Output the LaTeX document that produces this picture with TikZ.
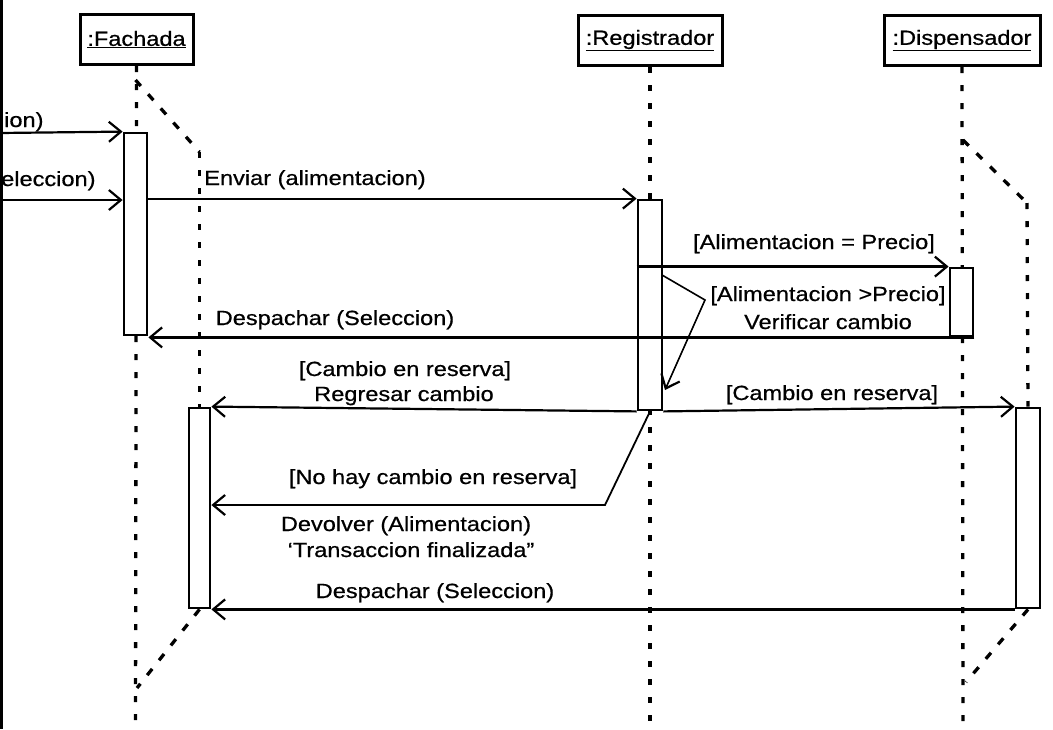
\documentclass[tikz,border=0pt]{standalone}
\usepackage{fontspec}
\setmainfont{Liberation Sans}[FakeStretch=1.15,FakeBold=0.6]
\usetikzlibrary{arrows.meta}
\begin{document}
\begin{tikzpicture}[x=1pt,y=-1pt,
  every node/.style={font=\fontsize{20.5}{24}\selectfont, inner sep=0pt},
  obj/.style={draw, line width=3pt, minimum height=50pt, fill=white},
  act/.style={draw, line width=2.8pt, fill=white},
  life/.style={line width=3.3pt, dash pattern=on 6pt off 12pt},
  branch/.style={line width=3.3pt, dash pattern=on 8pt off 11pt},
  msg/.style={line width=2.2pt, -{Straight Barb[length=12pt,width=20pt,line width=2.2pt]}},
  lbl/.style={anchor=base}]
\useasboundingbox (0,0) rectangle (1053,729);
\fill[white] (0,0) rectangle (1053,729);
\fill[black] (0,0) rectangle (3,729);

% object heads
\node[obj, minimum width=113pt] (fach) at (136.5,39.5) {\underline{:Fachada}};
\node[obj, minimum width=144pt] (reg) at (650,40.5) {\underline{:Registrador}};
\node[obj, minimum width=156pt] (dis) at (962,40.5) {\underline{:Dispensador}};

% lifeline anchor coordinates
\coordinate (fEnd) at (135.5,729);
\coordinate (fB1) at (135.5,80);
\coordinate (fB2) at (199.5,152);
\coordinate (fB3) at (137,688);
\coordinate (rEnd) at (650,729);
\coordinate (dEnd) at (963,729);
\coordinate (dB1) at (963,140);
\coordinate (dB2) at (1027,203);
\coordinate (dB3) at (966,682);

% lifelines
\draw[life] (fach.south) -- (fEnd);
\draw[life] (reg.south) -- (rEnd);
\draw[life] (dis.south) -- (dEnd);
\draw[branch] (fB1) -- (fB2);
\draw[branch] (dB1) -- (dB2);

% activation boxes
\node[act, minimum width=23pt, minimum height=202pt] (fa1) at (135.5,234) {};
\node[act, minimum width=21pt, minimum height=200pt] (fa2) at (199.5,508) {};
\node[act, minimum width=24pt, minimum height=210pt] (re1) at (650,305) {};
\node[act, minimum width=23pt, minimum height=68pt] (di1) at (961.5,302) {};
\node[act, minimum width=24pt, minimum height=200pt] (di2) at (1028,508) {};

\draw[life] (fB2) -- (fa2.north);
\draw[life] (dB2) -- (di2.north);
\draw[branch] (fa2.south) -- (fB3);
\draw[branch] (di2.south) -- (dB3);

% incoming messages from the left edge
\coordinate (in1) at (0,133);
\coordinate (in2) at (0,200);
\draw[msg] (in1) -- (fa1.north west);
\draw[msg] (in2) -- (fa1.west |- in2);
\node[anchor=base west] (l1) at (4,127) {ion)};
\node[anchor=base west] (l2) at (1,186) {eleccion)};

% Enviar
\draw[msg] (fa1.east |- re1.north) -- (re1.north west);
\node[lbl] (l3) at (315,185) {Enviar (alimentacion)};

% Alimentacion = Precio
\draw[msg, line width=2.8pt] (re1.west |- di1.north) -- (di1.north west);
\node[lbl] (l4) at (814,249) {[Alimentacion = Precio]};

% Despachar (Seleccion) top
\draw[msg, line width=2.6pt] (di1.south east) -- (fa1.east |- di1.south);
\node[lbl] (l5) at (335,325) {Despachar (Seleccion)};
\node[lbl, fill=white, inner sep=1pt] (l6) at (828,301) {[Alimentacion >Precio]};
\node[lbl] (l7) at (828,329) {Verificar cambio};

% branch self arrow
\coordinate (s1) at (662,275);
\coordinate (s2) at (705,300);
\coordinate (s3) at (665,390);
\draw[msg, line width=1.6pt] (s1) -- (s2) -- (s3);

% Cambio en reserva / Regresar cambio
\draw[msg] (re1.south west) -- (fa2.north east);
\node[lbl] (l8) at (405,376) {[Cambio en reserva]};
\node[lbl] (l9) at (404,401) {Regresar cambio};

% Cambio en reserva right
\draw[msg] (re1.south east) -- (di2.north west);
\node[lbl] (l10) at (832,400) {[Cambio en reserva]};

% No hay cambio en reserva
\coordinate (n1) at (605,505);
\draw[msg, line width=1.8pt] (re1.south) -- (n1) -- (fa2.east |- n1);
\node[lbl] (l11) at (433,484) {[No hay cambio en reserva]};
\node[lbl] (l12) at (406,531) {Devolver (Alimentacion)};
\node[lbl] (l13) at (411,557) {`Transaccion finalizada''};

% Despachar (Seleccion) bottom
\draw[msg] (di2.south west) -- (fa2.south east);
\node[lbl] (l14) at (435,598) {Despachar (Seleccion)};
\end{tikzpicture}
\end{document}
